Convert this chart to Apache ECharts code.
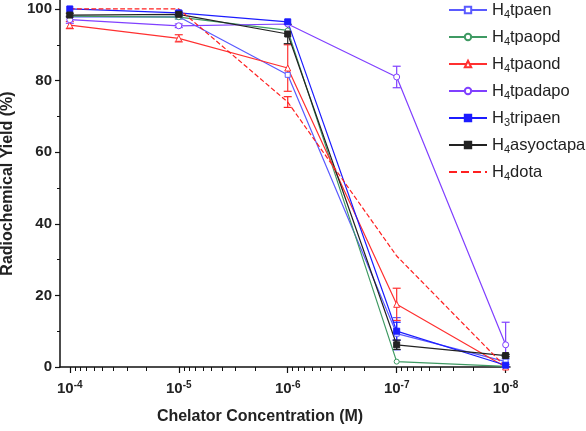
<!DOCTYPE html>
<html>
<head>
<meta charset="utf-8">
<script src="https://cdn.jsdelivr.net/npm/echarts@6/dist/echarts.min.js"></script>
<style>
  html, body { margin: 0; padding: 0; background: #fff; }
  #chart { width: 586px; height: 431px; }
</style>
</head>
<body>
<div id="chart"></div>
<script>
// chelator concentration (M), plotted reversed on a log axis
const concentrations = [1e-4, 1e-5, 1e-6, 1e-7, 1e-8];
const tickExponents = [4, 5, 6, 7, 8];
const yTicks = [0, 20, 40, 60, 80, 100];
const yMinorTicks = [10, 30, 50, 70, 90];

// radiochemical yield (%)
const tpaen     = [97.8, 97.8, 81.6, 9.3, 1.5];
const tpaopd    = [98.0, 97.7, 94.0, 1.5, 0.2];
const tpaond    = [95.5, 91.8, 83.5, 17.5, 0.0];
const tpadapo   = [97.0, 95.3, 95.8, 81.0, 6.2];
const tripaen   = [100.0, 98.9, 96.4, 10.0, 0.5];
const asyoctapa = [98.3, 98.5, 93.0, 6.2, 3.2];
const dota      = [100.0, 100.0, 74.0, 31.0, 0.0];

// error (±)
const tpaenErr     = [0, 0, 0, 4.5, 0.8];
const tpaopdErr    = [0, 0.5, 0, 0, 0];
const tpaondErr    = [1, 1, 6.5, 4.5, 0];
const tpadapoErr   = [1, 0.5, 0, 3, 6.3];
const tripaenErr   = [0, 0.5, 0, 2.5, 0];
const asyoctapaErr = [0.5, 0.5, 2.7, 1.3, 0.3];
const dotaErr      = [0, 0, 1.5, 0, 0];

const xPos = concentrations.map(c => -Math.log10(c));
const minorMultipliers = [2, 3, 4, 5, 6, 7, 8, 9];
const xMinorTicks = [];
[4, 5, 6, 7].forEach(d => {
  minorMultipliers.forEach(k => xMinorTicks.push(d + 1 - Math.log10(k)));
});

const chartDom = document.getElementById('chart');
const myChart = echarts.init(chartDom);

const defs = [
  { name: 'tpaen', pre: '4', data: tpaen, err: tpaenErr, color: '#5a5aff', symbol: 'rect', size: 5, fill: '#fff', type: 'solid' },
  { name: 'tpaopd', pre: '4', data: tpaopd, err: tpaopdErr, color: '#3f9a63', symbol: 'circle', size: 5, fill: '#fff', type: 'solid' },
  { name: 'tpaond', pre: '4', data: tpaond, err: tpaondErr, color: '#ff3030', symbol: 'triangle', size: 6, fill: '#fff', type: 'solid' },
  { name: 'tpadapo', pre: '4', data: tpadapo, err: tpadapoErr, color: '#8040ff', symbol: 'circle', size: 6, fill: '#fff', type: 'solid' },
  { name: 'tripaen', pre: '3', data: tripaen, err: tripaenErr, color: '#1c1cff', symbol: 'rect', size: 6, fill: null, type: 'solid' },
  { name: 'asyoctapa', pre: '4', data: asyoctapa, err: asyoctapaErr, color: '#222222', symbol: 'rect', size: 6, fill: null, type: 'solid' },
  { name: 'dota', pre: '4', data: dota, err: dotaErr, color: '#ff2020', symbol: 'none', size: 0, fill: null, type: 'dashed' }
];

const series = [];
defs.forEach(d => {
  const errData = [];
  d.data.forEach((v, i) => {
    if (d.err[i] > 0) errData.push([xPos[i], v - d.err[i], v + d.err[i]]);
  });
  series.push({
    type: 'custom',
    name: d.name + '_err',
    xAxisIndex: 0,
    yAxisIndex: 0,
    data: errData,
    silent: true,
    z: 2,
    renderItem: function (params, api) {
      const x = api.value(0);
      const lo = api.coord([x, api.value(1)]);
      const hi = api.coord([x, api.value(2)]);
      const w = 4;
      const style = { stroke: d.color, lineWidth: 1.2 };
      return {
        type: 'group',
        children: [
          { type: 'line', shape: { x1: lo[0], y1: lo[1], x2: hi[0], y2: hi[1] }, style: style },
          { type: 'line', shape: { x1: lo[0] - w, y1: lo[1], x2: lo[0] + w, y2: lo[1] }, style: style },
          { type: 'line', shape: { x1: hi[0] - w, y1: hi[1], x2: hi[0] + w, y2: hi[1] }, style: style }
        ]
      };
    }
  });
  series.push({
    type: 'line',
    name: d.name,
    xAxisIndex: 0,
    yAxisIndex: 0,
    data: d.data.map((v, i) => [xPos[i], v]),
    symbol: d.symbol,
    symbolSize: d.size,
    showSymbol: d.symbol !== 'none',
    z: 3,
    lineStyle: { color: d.color, width: 1.2, type: d.type },
    itemStyle: { color: d.fill || d.color, borderColor: d.color, borderWidth: 1 }
  });
});

const option = {
  animation: false,
  backgroundColor: '#fff',
  textStyle: { fontFamily: 'Liberation Sans, Arial, sans-serif' },
  grid: { left: 60, right: 76, top: 0, bottom: 64, outerBoundsMode: 'none' },
  legend: {
    orient: 'vertical',
    left: 443,
    top: 0,
    padding: [0, 5, 5, 5],
    itemWidth: 38,
    itemHeight: 8,
    itemGap: 7,
    data: defs.map(d => d.symbol === 'none'
      ? { name: d.name, itemStyle: { opacity: 0 } }
      : { name: d.name }),
    formatter: function (name) {
      const d = defs.find(e => e.name === name);
      return '{n|H}{s|' + d.pre + '}{n|' + name + '}';
    },
    textStyle: {
      color: '#222',
      fontSize: 16.5,
      rich: {
        n: { fontSize: 16.5, color: '#222', lineHeight: 20, fontFamily: 'Liberation Sans' },
        s: { fontSize: 11, color: '#222', lineHeight: 20, padding: [9, 0, 0, 0], fontFamily: 'Liberation Sans' }
      }
    }
  },
  xAxis: [
    {
      type: 'value',
      min: 3.91,
      max: 8.04,
      name: 'Chelator Concentration (M)',
      nameLocation: 'middle',
      nameGap: 42,
      nameTextStyle: { fontSize: 16, fontWeight: 'bold', color: '#222', padding: [0, 50, 0, 0] },
      axisLine: { lineStyle: { color: '#111', width: 1.5 } },
      splitLine: { show: false },
      axisTick: { show: true, customValues: tickExponents, length: 6, lineStyle: { color: '#111', width: 1.2 } },
      axisLabel: {
        customValues: tickExponents,
        margin: 13,
        formatter: function (v) {
          return '{b|10}{p|-' + Math.round(v) + '}';
        },
        rich: {
          b: { fontSize: 15, fontWeight: 'bold', color: '#222', lineHeight: 18 },
          p: { fontSize: 10, fontWeight: 'bold', color: '#222', lineHeight: 18, padding: [0, 0, 8, 0] }
        }
      }
    },
    {
      type: 'value',
      min: 3.91,
      max: 8.04,
      position: 'bottom',
      axisLine: { show: false },
      splitLine: { show: false },
      axisTick: { show: true, customValues: xMinorTicks, length: 4, lineStyle: { color: '#111', width: 1 } },
      axisLabel: { show: false }
    }
  ],
  yAxis: [
    {
      type: 'value',
      min: 0,
      max: 102.5,
      name: 'Radiochemical Yield (%)',
      nameLocation: 'middle',
      nameGap: 33,
      nameTextStyle: { fontSize: 16, fontWeight: 'bold', color: '#222' },
      axisLine: { show: true, lineStyle: { color: '#111', width: 1.5 } },
      splitLine: { show: false },
      axisTick: { show: true, customValues: yTicks, length: 5, lineStyle: { color: '#111', width: 1.2 } },
      axisLabel: { customValues: yTicks, fontSize: 15, fontWeight: 'bold', color: '#222', margin: 8 }
    },
    {
      type: 'value',
      min: 0,
      max: 102.5,
      position: 'left',
      axisLine: { show: false },
      splitLine: { show: false },
      axisTick: { show: true, customValues: yMinorTicks, length: 3, lineStyle: { color: '#111', width: 1 } },
      axisLabel: { show: false }
    }
  ],
  series: series
};

myChart.setOption(option);
</script>
</body>
</html>
